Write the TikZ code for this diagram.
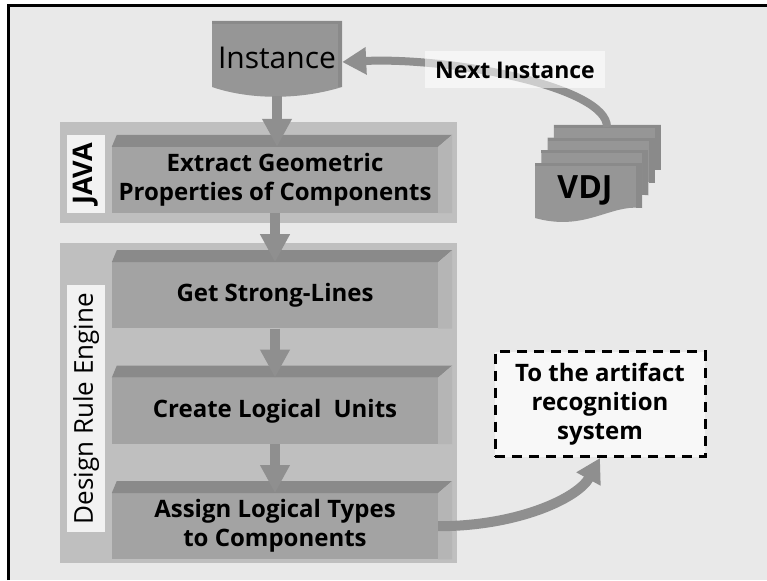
\documentclass[tikz,border=0pt]{standalone}
\usepackage{fontspec}
\setmainfont{Open Sans}
\usetikzlibrary{positioning,calc,arrows.meta}

\definecolor{bggray}{gray}{0.915}
\definecolor{panelgray}{gray}{0.75}
\definecolor{facegray}{gray}{0.64}
\definecolor{topgray}{gray}{0.54}
\definecolor{sidegray}{gray}{0.71}
\definecolor{flowgray}{gray}{0.56}
\definecolor{tabgray}{gray}{0.95}
\definecolor{docgray}{gray}{0.59}

\begin{document}
\begin{tikzpicture}[
    x=1pt, y=-1pt,
    stage/.style={fill=facegray, minimum width=326pt, minimum height=66pt,
      inner sep=0pt, align=center, font=\fontsize{24}{29}\selectfont\bfseries},
    tab/.style={fill=tabgray, rotate=90, minimum height=38pt, inner sep=0pt},
    flow/.style={draw=flowgray, line width=10pt, -{Triangle[width=28pt,length=28pt]}},
    curveflow/.style={draw=flowgray, line width=8pt, -{Triangle[width=26pt,length=24pt]}},
    target/.style={draw, line width=3pt, dash pattern=on 10pt off 7pt,
      fill=white!70!bggray, minimum width=210pt, minimum height=105pt,
      align=center, font=\fontsize{24}{29}\selectfont\bfseries}
  ]
  \useasboundingbox (0,0) rectangle (767,580);
  \fill[white] (0,0) rectangle (767,580);
  \fill[bggray] (8,6) rectangle (767,580);
  \draw[line width=3pt] (8,580) -- (8,6) -- (767,6);

  % the two engine panels
  \fill[panelgray] (60,122) rectangle (457,223);
  \fill[panelgray] (60,243) rectangle (457,563);
  \node[tab, minimum width=78pt, font=\fontsize{27}{30}\selectfont\bfseries] (javatab) at (86,174) {JAVA};
  \node[tab, minimum width=247pt, font=\fontsize{26}{30}\selectfont] (enginetab) at (86,408.5) {Design Rule Engine};

  % processing steps
  \node[stage] (extract) at (275,180) {Extract Geometric\\Properties of Components};
  \node[stage, below=49pt of extract] (getlines) {Get Strong-Lines};
  \node[stage, below=49pt of getlines] (createunits) {Create Logical\enspace Units};
  \node[stage, below=49pt of createunits] (assigntypes) {Assign Logical Types\\to Components};

  \foreach \s in {extract,getlines,createunits,assigntypes}{
    \fill[topgray] (\s.north west) -- ++(5,-12) -- ($(\s.north east)+(14,-12)$) -- (\s.north east) -- cycle;
    \fill[sidegray] (\s.north east) -- ++(14,-12) -- ($(\s.south east)+(14,0)$) -- (\s.south east) -- cycle;
  }

  % instance document
  \fill[docgray] (212,21) -- (342,21) -- (342,87) .. controls (300,100) and (250,100) .. (212,87) -- cycle;
  \fill[topgray] (212,21) rectangle (342,24);
  \fill[topgray] (338,21) rectangle (342,87);
  \node[minimum width=130pt, minimum height=76pt, inner sep=0pt,
    font=\fontsize{30}{34}\selectfont] (instance) at (277,58) {Instance};

  % stack of VDJ sheets
  \foreach \i in {3,2,1,0}{
    \begin{scope}[shift={(6.3*\i,-12.7*\i)}]
      \fill[docgray] (535,163) -- (642,163) -- (642,208) .. controls (610,204) and (585,232) .. (535,218) -- cycle;
      \fill[topgray] (535,163) rectangle (642,166);
      \fill[topgray] (636,163) rectangle (642,208);
    \end{scope}
  }
  \node[inner sep=0pt, font=\fontsize{32}{36}\selectfont\bfseries] (vdj) at (585,190) {VDJ};
  \coordinate (vdjtop) at (607,127);

  \node[target] (target) at (600,404) {To the artifact\\recognition\\system};

  \draw[flow] (instance.south) -- (instance.south |- extract.north);
  \draw[flow] (extract.south) -- (getlines.north);
  \draw[flow] (getlines.south) -- (createunits.north);
  \draw[flow] (createunits.south) -- (assigntypes.north);

  \draw[curveflow] (vdjtop) .. controls +(0,-40) and +(110,-5) .. ([yshift=-4pt]instance.east);
  \node[fill=white, fill opacity=0.55, text opacity=1, minimum width=180pt,
    minimum height=37pt, inner sep=0pt, font=\fontsize{23}{28}\selectfont\bfseries] (nextlabel) at (515,70) {Next Instance};

  \draw[curveflow, line width=10pt] (assigntypes.east) .. controls +(80,0) and +(-22,40) .. (target.south);
\end{tikzpicture}
\end{document}
